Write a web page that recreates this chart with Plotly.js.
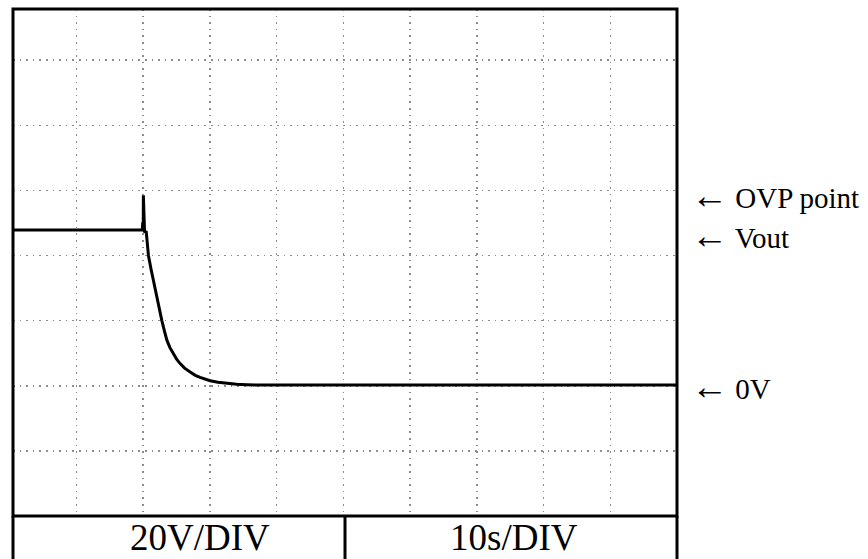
<!DOCTYPE html>
<html>
<head>
<meta charset="utf-8">
<script src="https://cdn.plot.ly/plotly-3.0.1.min.js"></script>
<style>html,body{margin:0;padding:0;background:#fff;}#chart{width:868px;height:559px;}</style>
</head>
<body>
<div id="chart"></div>
<script>
// Time (s) and voltage (V) of the scope trace
var timeS = [0.5, 19.85, 19.93, 20.0, 20.02, 20.06, 20.1, 20.14, 20.2, 20.44, 20.78, 21.15, 21.53, 21.9, 22.28, 22.55, 22.79, 23.2, 23.54, 24.0, 24.52, 25.0, 25.53, 26.2, 27.03, 27.8, 28.52, 29.2, 30.02, 31.2, 32.52, 34.0, 35.52, 37.5, 100];
var voltV = [47.8, 47.8, 50.2, 48.3, 58.5, 52.3, 55.4, 53.0, 47.1, 47.5, 40.0, 36.0, 32.3, 28.0, 24.4, 22.0, 20.0, 16.6, 14.0, 11.7, 9.8, 8.2, 6.8, 5.4, 4.2, 3.2, 2.55, 2.0, 1.54, 1.1, 0.71, 0.45, 0.31, 0.2, 0.2];
// Right-hand marker labels and the levels they point at
var labelTexts = ["OVP point", "Vout", "0V"];
var labelLevels = [58.3, 46.0, -0.1];
// Scale footer
var footerTexts = ["20V/DIV", "10s/DIV"];

var serif = 'Liberation Serif, Times New Roman, serif';
var arrowGlyph = '<span style="font-size:37px">\u2190</span> ';

var trace = {
  x: timeS, y: voltV, type: 'scatter', mode: 'lines',
  line: {color: '#000', width: 3}, hoverinfo: 'skip'
};

var gridStyle = {showgrid: true, gridcolor: '#8c8c8c', griddash: '1.5px,5.1px', gridwidth: 1.5,
  zeroline: false, showticklabels: false, ticks: '', showline: false};

var annotations = [];
for (var i = 0; i < labelTexts.length; i++) {
  annotations.push({xref: 'paper', yref: 'y', x: 1.018, y: labelLevels[i], xanchor: 'left', yanchor: 'middle',
    text: arrowGlyph + labelTexts[i], showarrow: false, font: {family: serif, size: 29, color: '#000'}});
}
var footY = -0.042;
annotations.push({xref: 'paper', yref: 'paper', x: 0.282, y: footY, xanchor: 'center', yanchor: 'middle',
  text: footerTexts[0], showarrow: false, font: {family: serif, size: 37, color: '#000'}});
annotations.push({xref: 'paper', yref: 'paper', x: 0.755, y: footY, xanchor: 'center', yanchor: 'middle',
  text: footerTexts[1], showarrow: false, font: {family: serif, size: 37, color: '#000'}});

var bl = {color: '#000', width: 3};
var shapes = [
  {type: 'rect', xref: 'paper', yref: 'paper', x0: 0, x1: 1, y0: 0, y1: 1, line: bl},
  {type: 'line', xref: 'paper', yref: 'paper', x0: 0, x1: 0, y0: 0, y1: -0.1, line: bl},
  {type: 'line', xref: 'paper', yref: 'paper', x0: 1, x1: 1, y0: 0, y1: -0.1, line: bl},
  {type: 'line', xref: 'paper', yref: 'paper', x0: 0.5, x1: 0.5, y0: 0, y1: -0.1, line: bl}
];

var layout = {
  width: 868, height: 559,
  margin: {l: 13, r: 191, t: 9, b: 43, pad: 0},
  paper_bgcolor: '#fff', plot_bgcolor: '#fff',
  showlegend: false,
  xaxis: Object.assign({range: [0.48, 100], dtick: 10, tick0: 0}, gridStyle),
  yaxis: Object.assign({range: [-40, 115.7], dtick: 20, tick0: 0}, gridStyle),
  annotations: annotations,
  shapes: shapes
};

Plotly.newPlot('chart', [trace], layout, {staticPlot: true, displayModeBar: false});
</script>
</body>
</html>
